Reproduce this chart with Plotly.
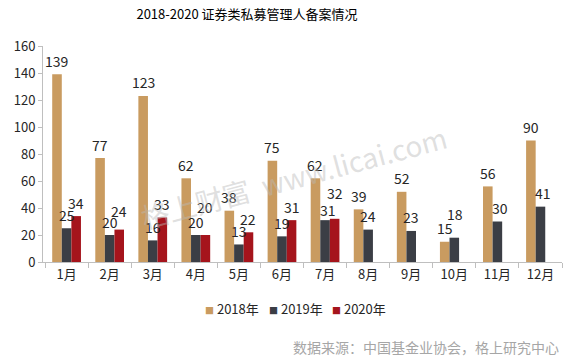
import plotly.graph_objects as go

months = ["1月", "2月", "3月", "4月", "5月", "6月", "7月", "8月", "9月", "10月", "11月", "12月"]
v2018 = [139, 77, 123, 62, 38, 75, 62, 39, 52, 15, 56, 90]
v2019 = [25, 20, 16, 20, 13, 19, 31, 24, 23, 18, 30, 41]
v2020 = [34, 24, 33, 20, 22, 31, 32, None, None, None, None, None]
series_names = ["2018年", "2019年", "2020年"]
y_ticks = [0, 20, 40, 60, 80, 100, 120, 140, 160]

title_text = "2018-2020 证券类私募管理人备案情况"
source_text = "数据来源：中国基金业协会，格上研究中心"
watermark_text = "格上财富  www.licai.com"

colors = ["#C99B60", "#3B3E45", "#A5141C"]
FONT = "Noto Sans CJK SC"
BARGAP = 0.333

W, H = 571, 362
PL, PT, PW, PH = 43, 46, 519, 216   # plot area in window pixels


def px(xabs):
    return (xabs - PL) / PW


def py(yabs):
    return (PT + PH - yabs) / PH


# label nudges in px (series index, month index) -> (dx, dy); style only
label_nudge = {
    (2, 1): (0, 5),
    (2, 3): (0, 15),
    (1, 6): (3, -3.5),
    (2, 6): (0, 12.5),
    (1, 9): (1, 10.5),
    (1, 10): (3, 0),
    (1, 11): (3, 0),
}

all_series = [v2018, v2019, v2020]

fig = go.Figure()
for name, vals, col in zip(series_names, all_series, colors):
    fig.add_trace(go.Bar(name=name, x=months, y=vals, showlegend=False,
                         marker=dict(color=col, line=dict(width=0))))

slot = (1 - BARGAP) / len(all_series)
annotations = []
for i, vals in enumerate(all_series):
    for j, v in enumerate(vals):
        if v is None:
            continue
        dx, dy = label_nudge.get((i, j), (0, 0))
        annotations.append(dict(
            x=j + (i - 1) * slot, y=v, xref="x", yref="y",
            text=str(v), showarrow=False, xanchor="center", yanchor="middle",
            xshift=dx, yshift=13.5 + dy,
            font=dict(family=FONT, size=14, color="#262626"),
        ))

# legend entries
legend_x = [203, 267, 330]
for name, col, lx in zip(series_names, colors, legend_x):
    annotations.append(dict(
        x=px(lx), y=py(308), xref="paper", yref="paper",
        text=f"<span style='color:{col};font-size:9px'>■</span> {name}",
        showarrow=False, xanchor="left", yanchor="middle",
        font=dict(family=FONT, size=13, color="#262626"),
    ))

annotations.append(dict(
    x=px(561), y=py(347), xref="paper", yref="paper", text=source_text,
    showarrow=False, xanchor="right", yanchor="middle",
    font=dict(family=FONT, size=14, color="#A6A6A6"),
))
annotations.append(dict(
    x=px(293), y=py(177), xref="paper", yref="paper",
    text=watermark_text, showarrow=False, textangle=-15,
    xanchor="center", yanchor="middle",
    font=dict(family=FONT, size=28, color="rgba(185,185,185,0.45)"),
))

fig.update_layout(
    width=W, height=H,
    margin=dict(l=PL, r=W - PL - PW, t=PT, b=H - PT - PH),
    paper_bgcolor="white", plot_bgcolor="white",
    barmode="group", bargap=BARGAP, bargroupgap=0,
    font=dict(family=FONT, color="#262626"),
    title=dict(text=title_text, x=247 / W, xanchor="center",
               y=1 - 14 / H, yanchor="middle",
               font=dict(family=FONT, size=13, color="#000000")),
    showlegend=False,
    hovermode=False,
    annotations=annotations,
    xaxis=dict(type="category", showgrid=False, showline=True, linecolor="#BFBFBF", linewidth=1,
               ticks="outside", tickson="boundaries", ticklen=5, tickcolor="#BFBFBF",
               tickfont=dict(family=FONT, size=13, color="#262626"), zeroline=False),
    yaxis=dict(range=[0, 160], tickvals=y_ticks, showgrid=False, showline=True, linecolor="#BFBFBF",
               linewidth=1, ticks="outside", ticklen=4, tickcolor="#BFBFBF",
               tickfont=dict(family=FONT, size=13, color="#262626"), zeroline=False),
)

fig.write_html("out.html", config={"displayModeBar": False},
               post_script="document.body.style.margin='0';")
